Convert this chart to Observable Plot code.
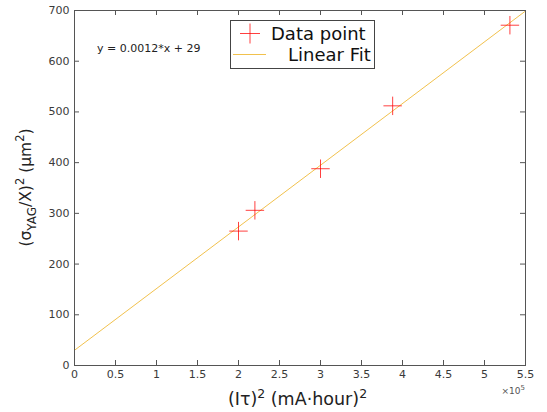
<!DOCTYPE html>
<html><head><meta charset="utf-8">
<script src="https://cdn.jsdelivr.net/npm/d3@7"></script>
<script src="https://cdn.jsdelivr.net/npm/@observablehq/plot@0.6"></script>
<style>body{margin:0;background:#fff} #chart{position:relative;width:547px;height:412px}</style>
</head><body><div id="chart"></div>
<script>
// Data
const pointX = [200000, 220000, 300000, 388000, 531000];
const pointY = [265, 306, 388, 512, 671];
const fitX = [0, 550000];
const fitY = [30, 699];
const xTickValues = [0, 50000, 100000, 150000, 200000, 250000, 300000, 350000, 400000, 450000, 500000, 550000];
const xTickLabels = ["0", "0.5", "1", "1.5", "2", "2.5", "3", "3.5", "4", "4.5", "5", "5.5"];
const yTickValues = [0, 100, 200, 300, 400, 500, 600, 700];
const legendLabels = ["Data point", "Linear Fit"];
const fitText = "y = 0.0012*x + 29";

const points = pointX.map((x, i) => ({x, y: pointY[i]}));
const fit = fitX.map((x, i) => ({x, y: fitY[i]}));

const W = 547, H = 412, mL = 74, mR = 22, mT = 10, mB = 47;
const innerW = W - mL - mR, innerH = H - mT - mB;
const axisColor = "#555";
const textColor = "#3a3a3a";
const font = "DejaVu Sans";

const plot = Plot.plot({
  width: W, height: H,
  marginLeft: mL, marginRight: mR, marginTop: mT, marginBottom: mB,
  style: {fontFamily: font, fontSize: "11px", color: textColor, background: "#fff", overflow: "visible"},
  x: {domain: [0, 550000]},
  y: {domain: [0, 700]},
  marks: [
    Plot.line(fit, {x: "x", y: "y", stroke: "#EDB120", strokeWidth: 1, strokeOpacity: 0.8}),
    Plot.dot(points, {x: "x", y: "y", symbol: "plus", r: 6, stroke: "#ff0000", strokeWidth: 1, strokeOpacity: 0.75}),
    Plot.tickX(xTickValues, {x: d => d, stroke: axisColor, insetTop: innerH - 5}),
    Plot.tickX(xTickValues, {x: d => d, stroke: axisColor, insetBottom: innerH - 5}),
    Plot.tickY(yTickValues, {y: d => d, stroke: axisColor, insetRight: innerW - 5}),
    Plot.tickY(yTickValues, {y: d => d, stroke: axisColor, insetLeft: innerW - 5}),
    Plot.axisX({anchor: "bottom", ticks: xTickValues, tickSize: 0, tickPadding: 5,
      tickFormat: d => xTickLabels[xTickValues.indexOf(d)], label: null, fill: textColor}),
    Plot.axisY({anchor: "left", ticks: yTickValues, tickSize: 0, tickPadding: 5,
      tickFormat: d => String(d), label: null, fill: textColor}),
    Plot.frame({stroke: axisColor})
  ]
});

document.getElementById("chart").appendChild(plot);
const svg = d3.select(plot);

function rich(sel, parts) {
  parts.forEach(p => {
    const t = sel.append("tspan").text(p.t);
    if (p.dy) t.attr("dy", p.dy);
    if (p.fs) t.attr("font-size", p.fs);
  });
}

// Y label
const yl = svg.append("text")
  .attr("transform", `translate(31,${mT + innerH / 2}) rotate(-90)`)
  .attr("text-anchor", "middle")
  .attr("font-family", font).attr("font-size", 15.5).attr("fill", "#222");
rich(yl, [
  {t: "(σ"}, {t: "YAG", dy: 5, fs: 12}, {t: "/X)", dy: -5},
  {t: "2", dy: -7, fs: 11.5}, {t: " (μm", dy: 7}, {t: "2", dy: -7, fs: 11.5}, {t: ")", dy: 7}
]);

// X label
const xl = svg.append("text")
  .attr("x", mL + innerW / 2 - 2).attr("y", 405)
  .attr("text-anchor", "middle")
  .attr("font-family", font).attr("font-size", 17.5).attr("fill", "#222");
rich(xl, [
  {t: "(Iτ)"}, {t: "2", dy: -7, fs: 12.5}, {t: " (mA·hour)", dy: 7}, {t: "2", dy: -7, fs: 12.5}
]);

// exponent
const ex = svg.append("text")
  .attr("x", mL + innerW).attr("y", 394)
  .attr("text-anchor", "end")
  .attr("font-family", font).attr("font-size", 9).attr("fill", "#555");
rich(ex, [{t: "×10"}, {t: "5", dy: -4, fs: 7}]);

// fit equation
svg.append("text").attr("x", 97).attr("y", 52)
  .attr("text-anchor", "start")
  .attr("font-family", font).attr("font-size", 11).attr("fill", "#222")
  .text(fitText);

// Legend
const lg = svg.append("g").attr("text-anchor", "start");
lg.append("rect").attr("x", 230.5).attr("y", 20.5).attr("width", 144).attr("height", 48)
  .attr("fill", "#fff").attr("stroke", "#444").attr("stroke-width", 1);
lg.append("path").attr("d", "M240,33.5H260M250,23.5V43.5")
  .attr("stroke", "#ff0000").attr("stroke-opacity", 0.75).attr("fill", "none");
lg.append("text").attr("x", 271).attr("y", 40)
  .attr("font-family", font).attr("font-size", 18).attr("fill", "#111").text(legendLabels[0]);
lg.append("line").attr("x1", 233).attr("x2", 266).attr("y1", 54.5).attr("y2", 54.5)
  .attr("stroke", "#EDB120").attr("stroke-opacity", 0.8);
lg.append("text").attr("x", 288).attr("y", 61)
  .attr("font-family", font).attr("font-size", 18).attr("fill", "#111").text(legendLabels[1]);
</script>
</body></html>
